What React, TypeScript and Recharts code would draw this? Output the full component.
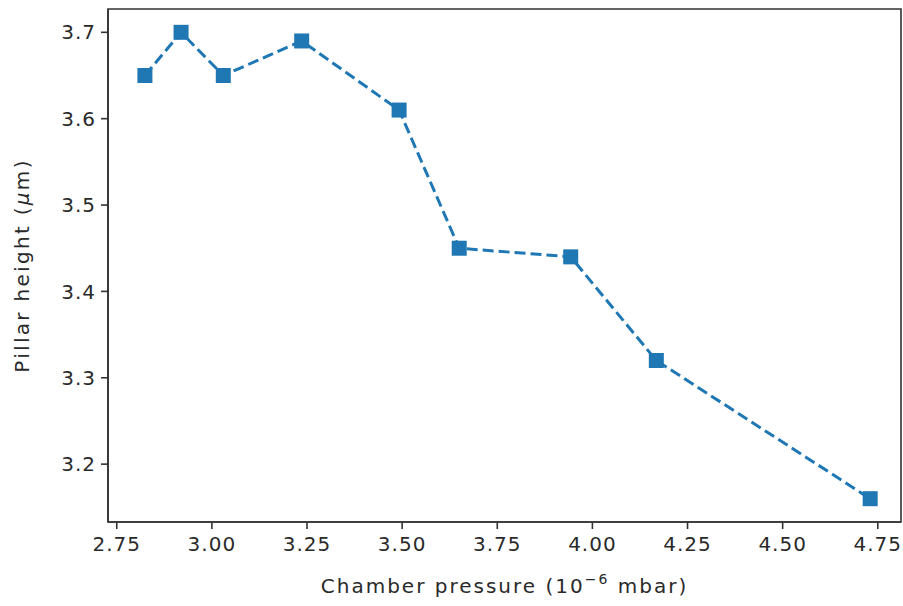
import React from "react";
import { LineChart, Line, XAxis, YAxis, ReferenceArea } from "recharts";

const pressure = [2.824, 2.919, 3.03, 3.236, 3.492, 3.65, 3.943, 4.168, 4.73];
const height = [3.65, 3.7, 3.65, 3.69, 3.61, 3.45, 3.44, 3.32, 3.16];
const xTicks = [2.75, 3.0, 3.25, 3.5, 3.75, 4.0, 4.25, 4.5, 4.75];
const yTicks = [3.2, 3.3, 3.4, 3.5, 3.6, 3.7];

const X_DOMAIN: [number, number] = [2.727, 4.811];
const Y_DOMAIN: [number, number] = [3.133, 3.727];

const data = pressure.map((p, i) => ({ p, h: height[i] }));

const FONT = "DejaVu Sans";
const TXT = "#2a2a2a";
const AX = "#333";
const BLUE = "#1f77b4";
const FS = 20;
const LS = 1;

const SquareDot = (props: any) => {
  const { cx, cy } = props;
  if (cx == null || cy == null) return null;
  const s = 15;
  return <rect x={cx - s / 2} y={cy - s / 2} width={s} height={s} fill={BLUE} />;
};

const XLabel = (props: any) => {
  const vb = props.viewBox || {};
  const cx = vb.x + vb.width / 2;
  return (
    <text x={cx} y={593} textAnchor="middle" fontFamily={FONT} fontSize={FS} fill={TXT} letterSpacing={2}>
      <tspan>Chamber pressure (10</tspan>
      <tspan fontSize={14} dy={-9}>−6</tspan>
      <tspan dy={9}> mbar)</tspan>
    </text>
  );
};

const YLabel = (props: any) => {
  const vb = props.viewBox || {};
  const cy = vb.y + vb.height / 2;
  const x = 29;
  return (
    <text
      x={x}
      y={cy}
      textAnchor="middle"
      fontFamily={FONT}
      fontSize={FS}
      fill={TXT}
      letterSpacing={2.3}
      transform={`rotate(-90, ${x}, ${cy})`}
    >
      <tspan>Pillar height (</tspan>
      <tspan fontStyle="italic">μ</tspan>
      <tspan>m)</tspan>
    </text>
  );
};

export default function App() {
  return (
    <div style={{ position: "absolute", left: 0, top: 0, width: 903, height: 606, background: "#fff" }}>
      <LineChart
        width={903}
        height={606}
        data={data}
        margin={{ top: 9, right: 2, left: 0, bottom: 0 }}
      >
        <XAxis
          dataKey="p"
          type="number"
          domain={X_DOMAIN}
          ticks={xTicks}
          tickFormatter={(v: number) => v.toFixed(2)}
          height={84}
          allowDataOverflow
          stroke={AX}
          axisLine={{ stroke: AX, strokeWidth: 1.6 }}
          tickLine={{ stroke: AX, strokeWidth: 1.6 }}
          tickSize={7}
          tick={{ fontFamily: FONT, fontSize: FS, fill: TXT, dy: 6, letterSpacing: LS }}
          label={<XLabel />}
        />
        <YAxis
          type="number"
          domain={Y_DOMAIN}
          ticks={yTicks}
          tickFormatter={(v: number) => v.toFixed(1)}
          width={108}
          allowDataOverflow
          axisLine={{ stroke: AX, strokeWidth: 1.6 }}
          tickLine={{ stroke: AX, strokeWidth: 1.6 }}
          tickSize={7}
          tick={{ fontFamily: FONT, fontSize: FS, fill: TXT, dx: -3, letterSpacing: LS }}
          label={<YLabel />}
        />
        <ReferenceArea
          x1={X_DOMAIN[0]}
          x2={X_DOMAIN[1]}
          y1={Y_DOMAIN[0]}
          y2={Y_DOMAIN[1]}
          fill="none"
          fillOpacity={0}
          stroke={AX}
          strokeWidth={1.6}
          ifOverflow="visible"
        />
        <Line
          dataKey="h"
          stroke={BLUE}
          strokeWidth={3}
          strokeDasharray="11 5"
          dot={<SquareDot />}
          activeDot={false}
          isAnimationActive={false}
        />
      </LineChart>
    </div>
  );
}
